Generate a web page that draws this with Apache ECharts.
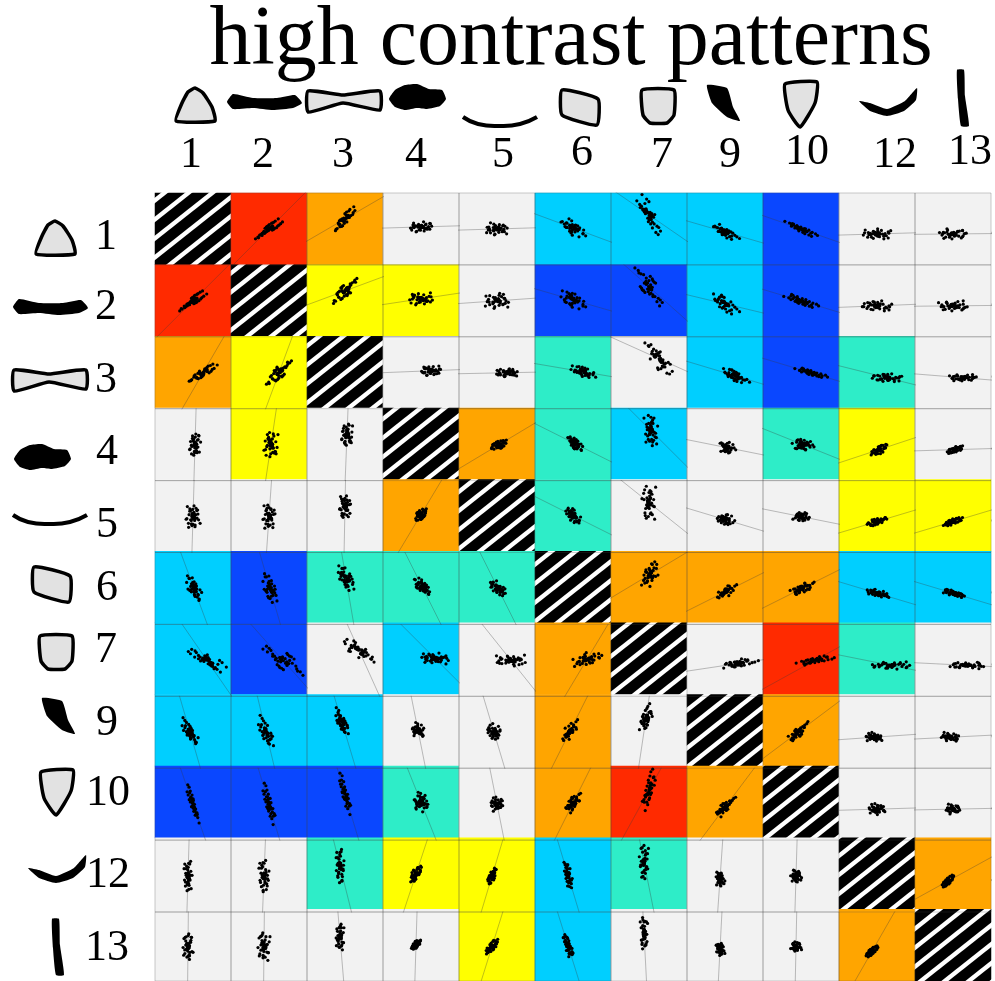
<!DOCTYPE html>
<html><head><meta charset="utf-8">
<style>html,body{margin:0;padding:0;background:#fff}#c{width:995px;height:981px;filter:blur(.55px)}</style>
<script src="https://cdn.jsdelivr.net/npm/echarts@6/dist/echarts.min.js"></script>
</head><body><div id="c"></div>
<script>
// ---------- data ----------
const titleText = 'high contrast patterns';
const patternIds = ['1','2','3','4','5','6','7','9','10','12','13'];

// measurements per pattern (estimated)
const p1  = [44,30,34,22,28,15,24,11,18,4,12,1,9,-4,5,-7,1,-1,-13,-5,-18,-9,-22,-12,-27,-17,-30,-22,-38,-31,-46,-41,6,-3,9,-8,2,-5,12,-10,4,-1,7,-6];
const p2  = [28,42,18,36,12,30,6,26,-2,22,-6,16,-10,12,-12,8,-16,6,-20,-4,-22,-8,-26,-10,-30,-14,-34,-18,-40,-26,-48,-38,4,-6,10,-4,-2,-9,8,-7,6,2,3,-10];
const p3  = [30,34,16,28,12,26,4,20,-2,14,10,-6,15,-10,8,-14,2,-12,5,-18,-4,-22,-20,-6,-10,-26,-14,-24,-30,-20,-36,-34,8,-2,6,-10,5,-7,3,-4,10,-1,9,-5];
const p4  = [8,28,-24,-8,30,-26,16,-20,14,-20,2,24,-12,-10,34,-22,6,-4,18,-26,16,-2,28,-34,-6,12,-30,20,10,-2,-16,-14,-3,5,-8,2,7,-4,1,9,-6,4,-9,3];
const p5  = [-24,8,-12,20,22,6,-6,-36,28,14,-30,-6,-14,24,36,-2,10,-28,-14,10,20,-32,18,-26,6,-12,-38,26,34,-24,-10,-8,2,-7,4,9,-3,6,-8,1,5,-5,-1,8];
const p6  = [-12,-32,-4,-18,-36,-2,-20,6,-26,-8,8,-18,14,-10,-24,12,-20,20,-2,10,-10,18,-4,32,-6,14,30,6,-2,30,18,38,-4,6,-9,7,-1,3,-10,8,2,-6,-3,5];
const p7  = [-22,-40,-6,-30,2,-28,-12,-14,-24,6,-20,12,-18,14,-14,18,-10,22,4,12,14,-2,20,10,30,0,36,8,42,14,34,26,-5,3,-7,9,1,6,-8,4,-2,7,-6,10];
const p9  = [-16,-34,-30,-10,-28,-8,-22,-2,-14,-18,6,-20,4,-10,12,-4,-16,18,-6,10,-8,24,2,8,20,-2,14,30,6,36,20,44,-7,2,-3,8,4,5,-9,10,-1,1,-4,6];
const p10 = [-46,-24,-32,-20,-20,-26,-26,-8,-10,-16,-14,-8,2,6,-8,-4,12,16,-4,6,20,26,8,14,32,20,14,36,26,46,34,52,-6,4,-8,7,-2,6,-9,8,-4,3,-5,9];
const p12 = [2,14,-38,-12,44,-8,2,-28,36,-22,-8,10,-40,18,38,-20,26,-16,-4,8,30,-26,22,-44,8,4,-18,2,36,-30,22,-12,3,-4,-6,1,8,-7,5,6,-9,2,-2,4];
const p13 = [-20,30,-18,14,30,-20,20,-44,14,6,-32,4,-28,-2,42,-6,36,-34,10,-16,32,-10,4,-36,30,-10,-24,18,26,-12,-4,-30,-2,6,-5,3,9,-8,2,7,-7,-1,1,-3];
const measures = [p1,p2,p3,p4,p5,p6,p7,p9,p10,p12,p13];

// correlation class per cell
const classes = [
 'XROGGCCCBGG',
 'RXYYGBBCBGG',
 'OYXGGTGCBTG',
 'GYGXOTCGTYG',
 'GGGOXTGGGYY',
 'CBTTTXOOOCC',
 'CBGCGOXGRTG',
 'CCCGGOGXOGG',
 'BBBTGOROXGG',
 'GGTYYCTGGXO',
 'GGGGYCGGGOX'
];
// axis zoom per cell (larger = the cloud fills more of the cell)
const zoomX = [
 [0,27,25,28,25,30,26,30,30,28,28],[27,0,30,30,28,30,30,30,32,30,30],[28,25,0,25,25,30,30,30,30,30,28],
 [11,14,14,0,18,18,15,18,20,16,16],[14,12,14,14,0,18,15,20,15,20,20],[15,14,20,20,18,0,18,22,22,22,22],
 [38,40,38,35,35,35,0,40,35,38,35],[16,15,16,15,15,18,14,0,18,16,18],[12,12,14,18,14,18,14,22,0,16,14],
 [8,10,10,14,10,10,10,10,10,0,12],[10,12,10,12,14,12,8,10,10,12,0]];
const zoomY = [
 [0,20,24,10,12,18,40,15,15,10,10],[20,0,25,12,15,18,38,20,13,10,10],[22,30,0,12,10,15,40,18,12,10,8],
 [28,32,28,0,12,18,40,14,14,14,10],[26,28,26,14,0,18,40,12,10,10,10],[30,35,30,20,18,0,30,16,15,10,10],
 [25,32,25,12,12,15,0,10,10,8,7],[30,35,30,16,18,24,30,0,22,10,10],[35,38,38,18,13,18,38,18,0,10,9],
 [30,32,34,16,16,26,34,14,12,0,12],[28,30,28,10,16,24,34,13,10,12,0]];
// axis bias of each pattern
const bias = [0,0,10,2,0,1,14,-3,0,-5,-5];
// fit-line slopes (upper triangle, row by row)
const slopes = [
 [1.0,.58,.03,.03,-.37,-.69,-.29,-.35,.03,.01],
 [.37,.15,.07,-.29,-.89,-.24,-.3,.04,.01],
 [.04,.02,-.17,-.45,-.3,-.3,-.25,-.08],
 [.6,-.5,-1.0,-.2,-.4,.33,.03],
 [-.5,-.8,-.3,-.2,.3,.3],
 [.6,.5,.5,-.3,-.3],
 [.15,.55,-.2,-.05],
 [.75,.07,.05],
 [.03,.02],
 [.55]
];

// ---------- styles ----------
const classColor = {R:'#FF2A00',O:'#FFA500',Y:'#FFFF00',G:'#F2F2F2',T:'#2EEDC8',C:'#00CFFF',B:'#0A47FF'};
const cellW = 76, cellH = 71.9, gridL = 155, gridT = 193, n = patternIds.length;
const serif = '"Liberation Serif","Times New Roman",serif';

// hatch tile
const tile = document.createElement('canvas'); tile.width = 24; tile.height = 19;
(function(){const g = tile.getContext('2d');g.fillStyle='#000';g.fillRect(0,0,24,19);
 g.strokeStyle='#fff';g.lineWidth=4.4;
 [-24,0,24].forEach(o=>{g.beginPath();g.moveTo(o-24,38);g.lineTo(o+48,-19);g.stroke();});})();

const mean = a => a.reduce((s,v)=>s+v,0)/a.length;

const cellData = [];
for (let i=0;i<n;i++) for (let j=0;j<n;j++) {
  const c = classes[i][j];
  cellData.push({value:[j,n-1-i,1], itemStyle:{color: c==='X' ? {image:tile,repeat:'repeat'} : classColor[c], borderWidth:0}});
}

const grids=[{left:gridL,top:gridT,width:cellW*n,height:cellH*n,show:false}];
const xAxes=[{type:'category',gridIndex:0,show:false,data:patternIds}];
const yAxes=[{type:'category',gridIndex:0,show:false,data:patternIds.slice().reverse()}];
const series=[{type:'heatmap',xAxisIndex:0,yAxisIndex:0,data:cellData,silent:true,z:1}];

function slopeOf(i,j){ return i<j ? slopes[i][j-i-1] : 1/slopes[j][i-j-1]; }

const edge='rgba(70,70,70,.26)';
for (let i=0;i<n;i++) for (let j=0;j<n;j++) {
  if (i===j) continue;
  const k=grids.length;
  const xs=measures[j], ys=measures[i];
  const xSpan=90*cellW/zoomX[i][j], ySpan=90*cellH/zoomY[i][j];
  const cx=mean(xs), cy=mean(ys);
  const xMid=cx-bias[i]/cellW*xSpan, yMid=cy-bias[j]/cellH*ySpan;
  grids.push({left:gridL+j*cellW,top:gridT+i*cellH,width:cellW,height:cellH,show:true,backgroundColor:'transparent',borderColor:edge,borderWidth:1,z:2});
  const ax=(min,max)=>({type:'value',gridIndex:k,min,max,splitNumber:4,scale:true,
    axisLine:{show:false},axisLabel:{show:false},splitLine:{show:false},
    axisTick:{show:true,inside:true,length:2,lineStyle:{color:'rgba(70,70,70,.35)',width:1}}});
  xAxes.push(ax(xMid-xSpan/2,xMid+xSpan/2));
  yAxes.push(ax(yMid-ySpan/2,yMid+ySpan/2));
  const s=slopeOf(i,j), len=Math.hypot(1,s), T=300;
  const dx=T/len*xSpan/cellW, dy=T*s/len*ySpan/cellH;
  series.push({type:'line',xAxisIndex:k,yAxisIndex:k,symbol:'none',silent:true,clip:true,z:3,
    lineStyle:{color:'rgba(60,60,60,.32)',width:1},data:[[cx-dx,cy-dy],[cx+dx,cy+dy]]});
  series.push({type:'scatter',xAxisIndex:k,yAxisIndex:k,symbolSize:3.2,silent:true,z:4,
    itemStyle:{color:'#000',opacity:1},data:xs.map((v,q)=>[v,ys[q]])});
}

// ---------- pattern glyphs and labels (page decoration) ----------
const K='#000', L='#e2e2e2';
const glyphs = {
 '1':{f:L,s:3.5,p:[[-19,16],[-13,-2],[-7,-13],[0,-17],[8,-12],[17,2],[20,16]]},
 '2':{f:K,s:0,p:[[-37,0],[-31,-8],[-11,-4],[13,-4],[31,-7],[38,1],[29,6],[9,8],[-11,6],[-31,7]]},
 '3':{f:L,s:3.5,p:[[-36,11],[-36,-10],[-1,-6],[36,-10],[36,9],[-1,2]]},
 '4':{f:K,s:0,p:[[-28,2],[-22,-7],[-12,-12],[0,-13],[12,-8],[25,-7],[29,2],[23,9],[10,12],[0,11],[-12,13],[-22,10]]},
 '5':{line:true,s:4,p:[[-37,-5],[-22,2],[0,4],[20,2],[37,-5]]},
 '6':{f:L,s:3.5,p:[[-18,-17],[18,-8],[17,18],[-18,8]]},
 '7':{f:L,s:3.5,p:[[-16,-16],[16,-16],[16,9],[9,17],[-8,17],[-15,9]]},
 '9':{f:K,s:0,p:[[-15,-18],[5,-15],[11,4],[18,18],[5,14],[-10,0]]},
 '10':{f:L,s:3.5,p:[[-15,-20],[17,-22],[15,-1],[0,23],[-12,6]]},
 '12':{f:K,s:0,p:[[-28,-2],[-17,0],[0,6],[18,-2],[30,-15],[29,-3],[17,8],[0,13],[-17,8]]},
 '13':{f:K,s:0,p:[[-6,-28],[1,-28],[2,-2],[6,28],[-2,28],[-5,1]]}
};
const topGlyphAt  = {'1':[195,105],'2':[264,102],'3':[344,101],'4':[417,97],'5':[500,122],'6':[580,107],'7':[658,106],'9':[722,103],'10':[800,104],'12':[887,103],'13':[963,98]};
const sideGlyphAt = {'1':[55,238],'2':[50,307],'3':[50,380],'4':[42,457],'5':[50,520],'6':[52,584],'7':[56,652],'9':[57,716],'10':[56,792],'12':[56,870],'13':[58,947]};
const topLabelAt  = {'1':[191,155],'2':[263,155],'3':[343,155],'4':[416,155],'5':[503,155],'6':[582,153],'7':[662,155],'9':[730,155],'10':[807,152],'12':[895,155],'13':[970,152]};
const sideLabelAt = {'1':[106,237],'2':[106,307],'3':[106,380],'4':[107,452],'5':[107,525],'6':[107,588],'7':[106,650],'9':[107,723],'10':[108,793],'12':[108,875],'13':[107,948]};

const graphic=[];
function addGlyph(id,at){
  const g=glyphs[id], pts=g.p.map(q=>[q[0]+at[0],q[1]+at[1]]);
  graphic.push(g.line
   ? {type:'polyline',silent:true,shape:{points:pts,smooth:.5},style:{stroke:K,lineWidth:g.s,fill:null}}
   : {type:'polygon',silent:true,shape:{points:pts,smooth:.15},style:{fill:g.f,stroke:K,lineWidth:g.s}});
}
function addLabel(id,at){
  graphic.push({type:'text',silent:true,x:at[0],y:at[1],style:{text:id,font:'44px '+serif,fill:'#000',textAlign:'center',textVerticalAlign:'middle'}});
}
patternIds.forEach(id=>{addGlyph(id,topGlyphAt[id]);addGlyph(id,sideGlyphAt[id]);addLabel(id,topLabelAt[id]);addLabel(id,sideLabelAt[id]);});

const chart=echarts.init(document.getElementById('c'),null,{renderer:'canvas'});
chart.setOption({
  animation:false,backgroundColor:'#fff',
  title:{text:titleText,left:566,top:-5,textAlign:'center',textStyle:{fontFamily:serif,fontSize:84,fontWeight:'normal',color:'#000'}},
  tooltip:{show:false},legend:{show:false},
  grid:grids,xAxis:xAxes,yAxis:yAxes,series,graphic
});
</script></body></html>
